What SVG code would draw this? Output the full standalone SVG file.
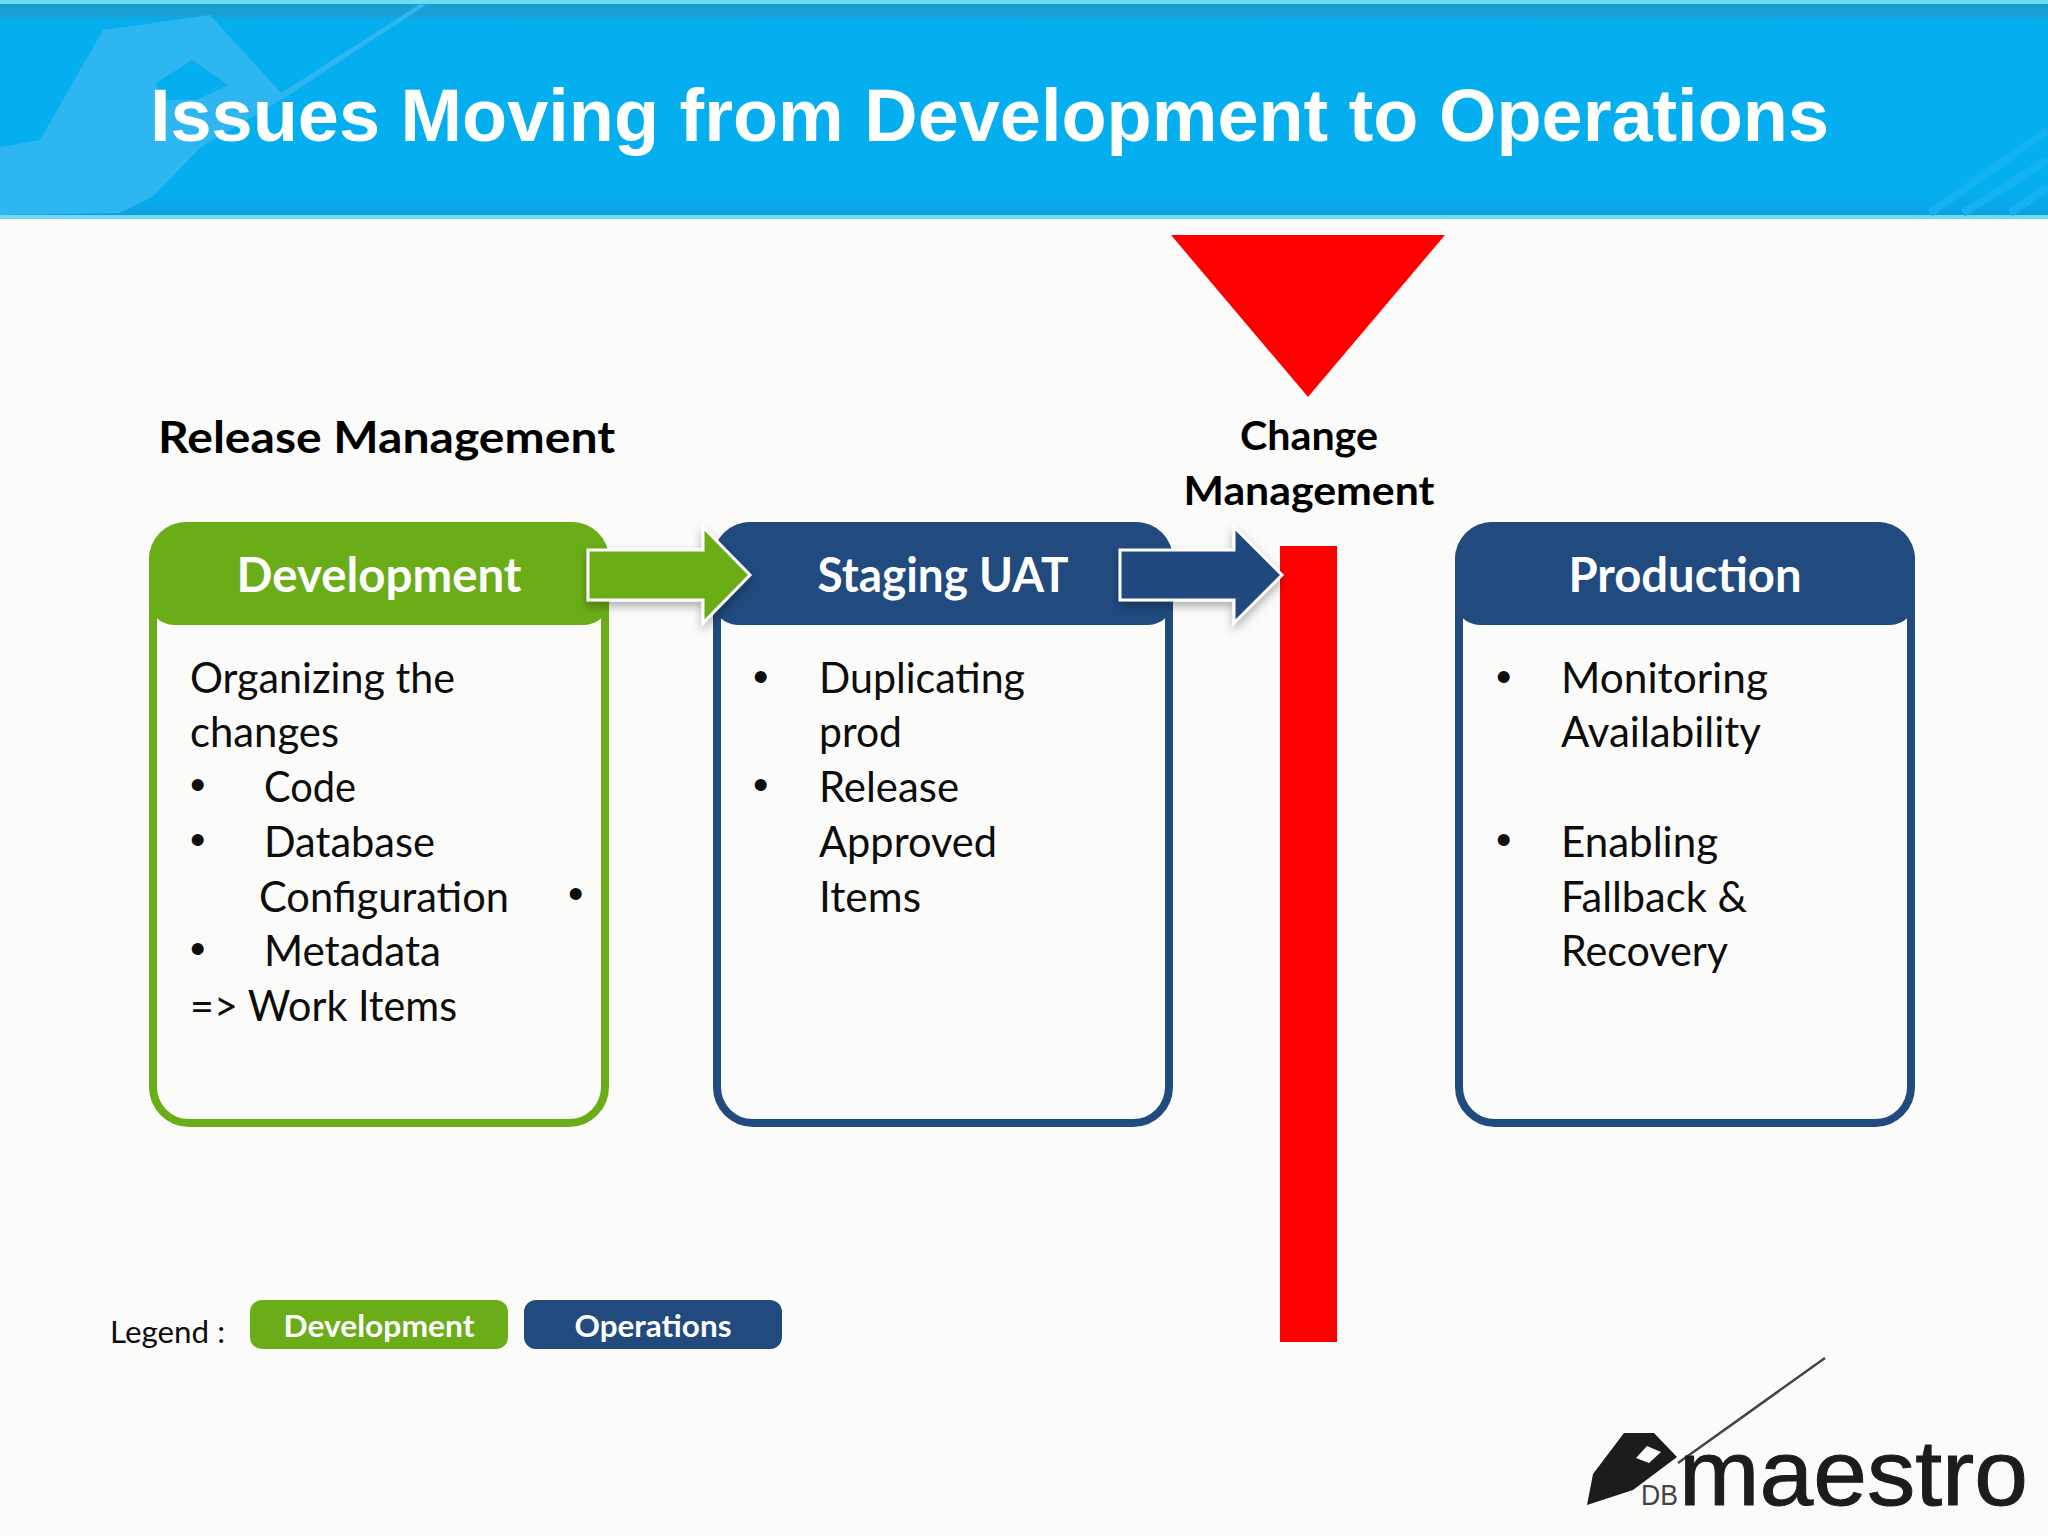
<svg xmlns="http://www.w3.org/2000/svg" width="2048" height="1536" viewBox="0 0 2048 1536">
<defs>
<linearGradient id="hdr" x1="0" y1="0" x2="0" y2="1"><stop offset="0" stop-color="#1a9dd0"/><stop offset="0.06" stop-color="#1a9fd4"/><stop offset="0.1" stop-color="#04aeef"/><stop offset="0.88" stop-color="#04aeef"/><stop offset="0.96" stop-color="#0ba4e6"/><stop offset="1" stop-color="#119dd4"/></linearGradient>
<filter id="sh" x="-20%" y="-20%" width="140%" height="150%"><feDropShadow dx="0" dy="5" stdDeviation="5" flood-color="#000" flood-opacity="0.3"/></filter>
</defs>
<style>
text{font-family:Lato,"Liberation Sans",sans-serif;fill:#0d0d0d}
.b{font-size:42px}
.d{font-family:"Liberation Sans",sans-serif;font-size:44px}
.h{font-size:47px;font-weight:700;fill:#fff;text-anchor:middle}
.t{font-size:44px;font-weight:700;fill:#000}
.l{font-size:31px;font-weight:700;fill:#fff;text-anchor:middle}
.ar{stroke:#fff;stroke-width:3;filter:url(#sh)}
.box{fill:none;stroke-width:8}
</style>
<rect width="2048" height="1536" fill="#fbfbf9"/>
<g id="header">
<rect width="2048" height="218" fill="url(#hdr)"/>
<rect width="2048" height="4" fill="#6fdcee"/>
<rect y="215" width="2048" height="4" fill="#6fd8f2"/>
<path fill-rule="evenodd" d="M0 147L40 140L103 30L210 15L281 93L420 4L426 5L286 97L201 147L152 197L120 213L0 215ZM156 83L192 60L228 85L196 100L160 100Z" fill="#2db6f0"/>
<path d="M1930 213L2048 130M1963 213L2048 160M2010 213L2048 187" stroke="#14b2f1" stroke-width="8" fill="none"/>
<text x="150" y="141" style="font-family:'Liberation Sans',sans-serif;font-weight:700;font-size:74px;fill:#fff" textLength="1679" lengthAdjust="spacingAndGlyphs">Issues Moving from Development to Operations</text>
</g>
<g id="release-label"><text class="t" x="158" y="453" textLength="457" lengthAdjust="spacingAndGlyphs">Release Management</text></g>
<g id="change-gate">
<path d="M1171 235H1445L1308 397Z" fill="#f00"/>
<rect x="1280" y="546" width="57" height="796" fill="#f00"/>
<text x="1309" y="450" style="font-size:40px;font-weight:700;fill:#000;text-anchor:middle" textLength="138" lengthAdjust="spacingAndGlyphs">Change</text>
<text x="1309" y="505" style="font-size:40px;font-weight:700;fill:#000;text-anchor:middle" textLength="251" lengthAdjust="spacingAndGlyphs">Management</text>
</g>
<g id="development">
<rect class="box" x="153" y="526" width="452" height="597" rx="36" stroke="#6aad18"/>
<path d="M149 625V559a37 37 0 0 1 37-37H572a37 37 0 0 1 37 37V600a25 25 0 0 1-25 25H174a25 25 0 0 1-25-25Z" fill="#6aad18"/>
<text class="h" x="379" y="592" textLength="285" lengthAdjust="spacingAndGlyphs">Development</text>
<text class="b" x="190" y="692.5" textLength="265" lengthAdjust="spacingAndGlyphs">Organizing the</text>
<text class="b" x="190" y="747" textLength="149" lengthAdjust="spacingAndGlyphs">changes</text>
<text class="d" x="190" y="800">•</text><text class="b" x="264" y="801.5" textLength="92" lengthAdjust="spacingAndGlyphs">Code</text>
<text class="d" x="190" y="855">•</text><text class="b" x="264" y="856.5" textLength="171" lengthAdjust="spacingAndGlyphs">Database</text>
<text class="b" x="259" y="911.5" textLength="250" lengthAdjust="spacingAndGlyphs">Configuration</text><text class="d" x="568" y="909">•</text>
<text class="d" x="190" y="964">•</text><text class="b" x="264" y="965.5" textLength="177" lengthAdjust="spacingAndGlyphs">Metadata</text>
<text class="b" x="190" y="1020.5" textLength="267" lengthAdjust="spacingAndGlyphs">=&gt; Work Items</text>
</g>
<g id="staging">
<rect class="box" x="717" y="526" width="452" height="597" rx="36" stroke="#214a7f"/>
<path d="M713 625V559a37 37 0 0 1 37-37H1136a37 37 0 0 1 37 37V600a25 25 0 0 1-25 25H738a25 25 0 0 1-25-25Z" fill="#214a7f"/>
<text class="h" x="943" y="592" textLength="251" lengthAdjust="spacingAndGlyphs">Staging UAT</text>
<text class="d" x="753" y="692">•</text><text class="b" x="819" y="692.5" textLength="206" lengthAdjust="spacingAndGlyphs">Duplicating</text>
<text class="b" x="819" y="747" textLength="83" lengthAdjust="spacingAndGlyphs">prod</text>
<text class="d" x="753" y="800">•</text><text class="b" x="819" y="801.5" textLength="140" lengthAdjust="spacingAndGlyphs">Release</text>
<text class="b" x="819" y="856.5" textLength="178" lengthAdjust="spacingAndGlyphs">Approved</text>
<text class="b" x="819" y="911.5" textLength="102" lengthAdjust="spacingAndGlyphs">Items</text>
</g>
<g id="production">
<rect class="box" x="1459" y="526" width="452" height="597" rx="36" stroke="#214a7f"/>
<path d="M1455 625V559a37 37 0 0 1 37-37H1878a37 37 0 0 1 37 37V600a25 25 0 0 1-25 25H1480a25 25 0 0 1-25-25Z" fill="#214a7f"/>
<text class="h" x="1685" y="592" textLength="233" lengthAdjust="spacingAndGlyphs">Production</text>
<text class="d" x="1496" y="692">•</text><text class="b" x="1561" y="692.5" textLength="207" lengthAdjust="spacingAndGlyphs">Monitoring</text>
<text class="b" x="1561" y="747" textLength="200" lengthAdjust="spacingAndGlyphs">Availability</text>
<text class="d" x="1496" y="855">•</text><text class="b" x="1561" y="856.5" textLength="157" lengthAdjust="spacingAndGlyphs">Enabling</text>
<text class="b" x="1561" y="911.5" textLength="186" lengthAdjust="spacingAndGlyphs">Fallback &amp;</text>
<text class="b" x="1561" y="965.5" textLength="167" lengthAdjust="spacingAndGlyphs">Recovery</text>
</g>
<g id="connectors">
<path class="ar" d="M588 550H703V527L750 575L703 623V600H588Z" fill="#6aad18"/>
<path class="ar" d="M1120 550H1234V527L1282 575L1234 623V600H1120Z" fill="#214a7f"/>
</g>
<g id="legend">
<text x="110" y="1343" style="font-size:31px" textLength="115" lengthAdjust="spacingAndGlyphs">Legend :</text>
<rect x="250" y="1300" width="258" height="49" rx="12" fill="#6aad18"/>
<text class="l" x="379" y="1337" textLength="191" lengthAdjust="spacingAndGlyphs">Development</text>
<rect x="524" y="1300" width="258" height="49" rx="12" fill="#214a7f"/>
<text class="l" x="653" y="1337" textLength="157" lengthAdjust="spacingAndGlyphs">Operations</text>
</g>
<g id="logo">
<path d="M1825 1358L1678 1463" stroke="#444" stroke-width="2.5" fill="none"/>
<path fill-rule="evenodd" d="M1587 1505L1593 1474L1624 1433L1654 1433L1677 1457L1633 1490ZM1636 1458L1647 1446L1661 1452L1649 1463Z" fill="#1c1c1c"/>
<text x="1641" y="1505" style="font-family:'Liberation Sans',sans-serif;font-size:30px;fill:#444" textLength="37" lengthAdjust="spacingAndGlyphs">DB</text>
<text x="1679" y="1505" style="font-family:'Liberation Sans',sans-serif;font-size:92px;fill:#1c1c1c;stroke:#1c1c1c;stroke-width:1" textLength="349" lengthAdjust="spacingAndGlyphs">maestro</text>
</g>
</svg>
